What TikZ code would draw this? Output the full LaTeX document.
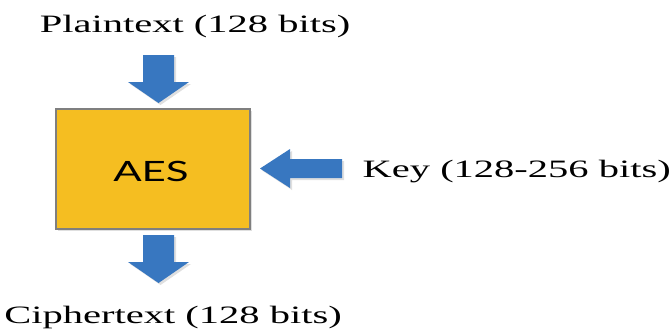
\documentclass[tikz,border=0pt]{standalone}
\usepackage{fontspec}
\setmainfont{Liberation Serif}
\newfontfamily\boxfont{Lato}
\usetikzlibrary{shadows}

\definecolor{aesyellow}{HTML}{F5BE21}
\definecolor{aesgray}{HTML}{7F7F7F}
\definecolor{arrowblue}{HTML}{3877C0}

\tikzset{
  cipherbox/.style={draw=aesgray,line width=1.2pt,fill=aesyellow,
    drop shadow={opacity=0.25,shadow xshift=1pt,shadow yshift=-1pt}},
  blockarrow/.style={fill=arrowblue,
    drop shadow={opacity=0.25,shadow xshift=1pt,shadow yshift=-1pt}},
  label/.style={font=\fontsize{12.5}{15}\selectfont,inner sep=0pt,xscale=1.62}
}

\begin{document}
\begin{tikzpicture}[x=0.5pt,y=-0.5pt]
\useasboundingbox (0,0) rectangle (672,329);
% the cipher block
\draw[cipherbox] (56,109) rectangle (250,229);
\node[inner sep=0pt,xscale=1.5,font=\boxfont\fontsize{14}{16}\selectfont] (aes) at (151,171) {AES};
% inputs and output
\node[label,anchor=base] (plain) at (195,32) {Plaintext (128 bits)};
\node[label,anchor=base] (cipher) at (173,323) {Ciphertext (128 bits)};
\node[label,anchor=base west] (key) at (362,177) {Key (128-256 bits)};
% block arrows
\fill[blockarrow] (143,55) -- (174,55) -- (174,82) -- (189,82) -- (158.5,103)
  -- (128,82) -- (143,82) -- cycle;
\fill[blockarrow] (143,235) -- (174,235) -- (174,262) -- (189,262) -- (158.5,283)
  -- (128,262) -- (143,262) -- cycle;
\fill[blockarrow] (342,159) -- (342,178) -- (290,178) -- (290,188) -- (260,168.5)
  -- (290,149) -- (290,159) -- cycle;
\end{tikzpicture}
\end{document}
